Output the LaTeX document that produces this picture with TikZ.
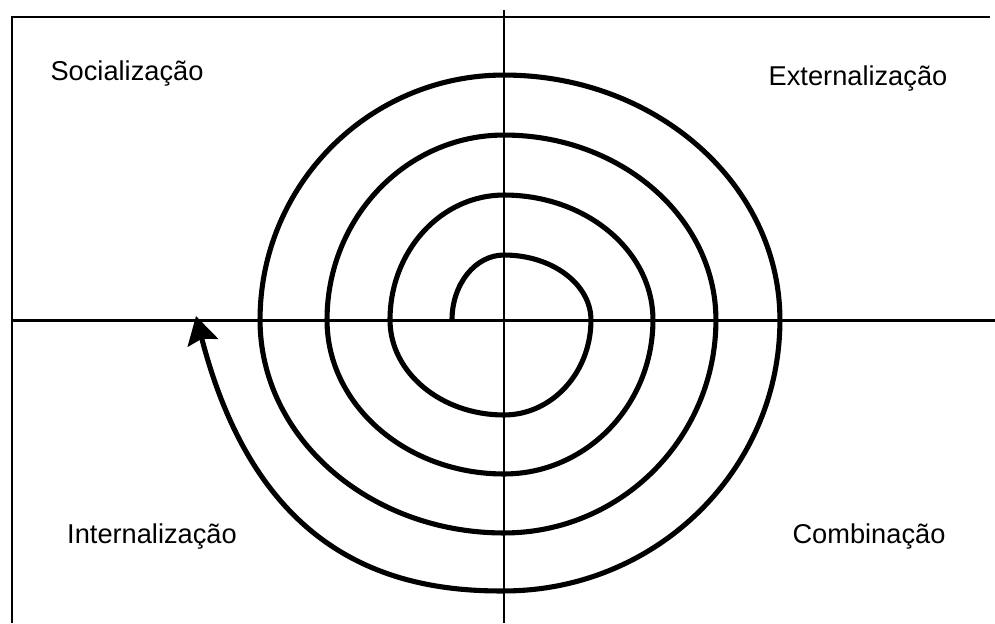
\documentclass[tikz,border=0pt]{standalone}
\usepackage{fontspec}
\setmainfont{Liberation Sans}
\usepackage{tikz}
\usetikzlibrary{arrows.meta}

\tikzset{
    axisline/.style={black, line width=1.7pt},
    spiralline/.style={black, line width=2.9pt, line join=round},
    quadlabel/.style={font=\fontsize{15.5}{18}\selectfont, inner sep=0pt, anchor=base}
}

\begin{document}
\begin{tikzpicture}[x=0.02cm, y=-0.02cm]
    \useasboundingbox (0,0) rectangle (995,623);

    % Frame and axes
    \draw[axisline] (12,623) -- (12,17) -- (990,17);
    \draw[axisline] (12,320) -- (995,320);
    \draw[axisline] (504,10) -- (504,623);

    % Quadrant labels
    \node[quadlabel] (soc) at (127,80) {Socialização};
    \node[quadlabel] (ext) at (858,85) {Externalização};
    \node[quadlabel] (int) at (152,543) {Internalização};
    \node[quadlabel] (comb) at (869,543) {Combinação};

    % Knowledge spiral: quarter ellipses round the centre, clockwise
    \draw[spiralline, -{Stealth[length=0.55cm, width=0.62cm, inset=0.08cm]}] (452,320)
        % turn 1
        arc[start angle=180, end angle=90, x radius=1.04cm, y radius=1.30cm]
        arc[start angle=90, end angle=0, x radius=1.74cm, y radius=1.30cm]
        arc[start angle=0, end angle=-90, x radius=1.74cm, y radius=1.90cm]
        arc[start angle=-90, end angle=-180, x radius=2.28cm, y radius=1.90cm]
        % turn 2
        arc[start angle=180, end angle=90, x radius=2.28cm, y radius=2.50cm]
        arc[start angle=90, end angle=0, x radius=2.98cm, y radius=2.50cm]
        arc[start angle=0, end angle=-90, x radius=2.98cm, y radius=3.08cm]
        arc[start angle=-90, end angle=-180, x radius=3.54cm, y radius=3.08cm]
        % turn 3
        arc[start angle=180, end angle=90, x radius=3.54cm, y radius=3.70cm]
        arc[start angle=90, end angle=0, x radius=4.24cm, y radius=3.70cm]
        arc[start angle=0, end angle=-90, x radius=4.24cm, y radius=4.26cm]
        arc[start angle=-90, end angle=-180, x radius=4.88cm, y radius=4.26cm]
        % turn 4
        arc[start angle=180, end angle=90, x radius=4.88cm, y radius=4.90cm]
        arc[start angle=90, end angle=0, x radius=5.52cm, y radius=4.90cm]
        arc[start angle=0, end angle=-90, x radius=5.52cm, y radius=5.42cm]
        % last arm up to the arrow
        .. controls (380,592) and (255,545) .. (196,316);
\end{tikzpicture}
\end{document}
